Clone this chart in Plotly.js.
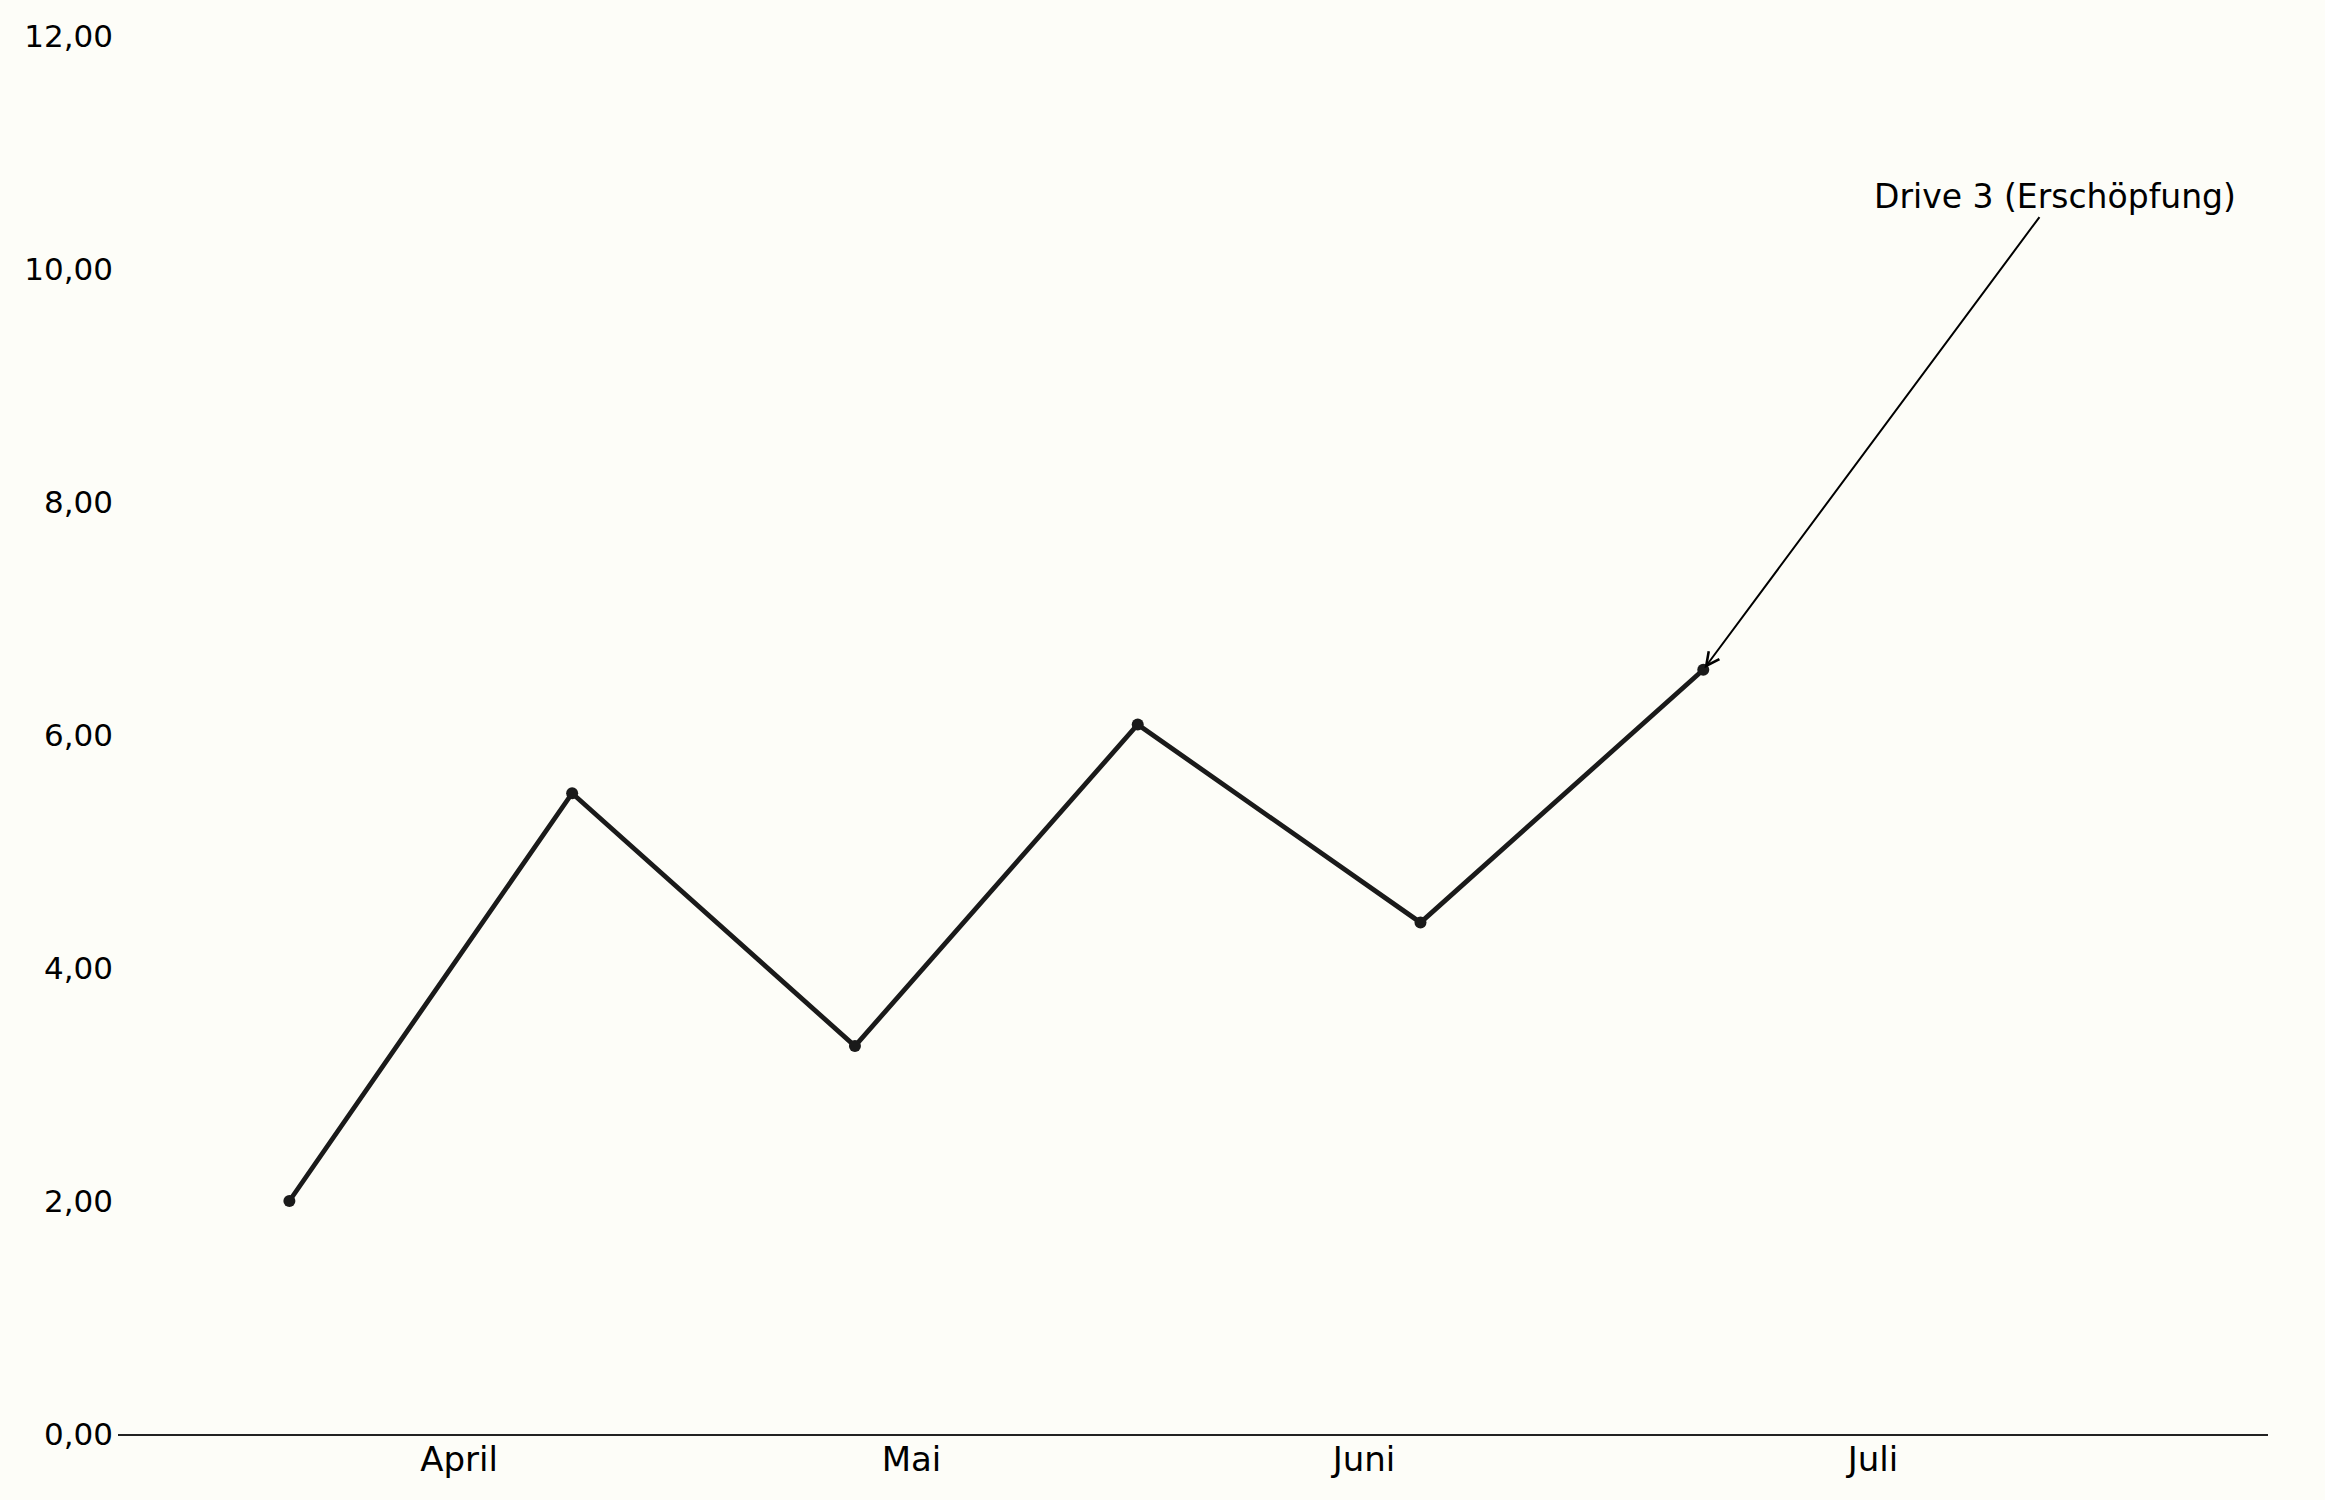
<!DOCTYPE html>
<html>
<head>
<meta charset="utf-8">
<script src="https://cdn.plot.ly/plotly-3.0.1.min.js"></script>
<style>
  html, body { margin: 0; padding: 0; background: #fdfdf8; }
  #chart { width: 2325px; height: 1500px; }
</style>
</head>
<body>
<div id="chart"></div>
<script>
// Messpunkte (gleichmäßige Abstände)
const pointPos = [0, 1, 2, 3, 4, 5];
const values = [2.0, 5.5, 3.33, 6.09, 4.39, 6.56];

// Monatsbeschriftung der x-Achse
const monthPos = [0.6, 2.2, 3.8, 5.6];
const monthLabels = ['April', 'Mai', 'Juni', 'Juli'];

const yTicks = [0, 2, 4, 6, 8, 10, 12];

const noteText = 'Drive 3 (Erschöpfung)';
const noteIndex = 5;

const ink = '#1a1a1a';

Plotly.newPlot('chart', [
    {
        x: pointPos,
        y: values,
        type: 'scatter',
        mode: 'lines+markers',
        line: { color: ink, width: 4.8 },
        marker: { color: ink, size: 12 },
        hoverinfo: 'skip'
    }
], {
    width: 2325,
    height: 1500,
    separators: ',.',
    font: { family: 'DejaVu Sans', color: '#000' },
    paper_bgcolor: '#fdfdf8',
    plot_bgcolor: '#fdfdf8',
    showlegend: false,
    margin: { l: 118, r: 57, t: 36, b: 66 },
    xaxis: {
        range: [-0.606, 6.997],
        tickvals: monthPos,
        ticktext: monthLabels,
        tickfont: { size: 34, color: '#000' },
        ticklabelstandoff: -6,
        showgrid: false,
        zeroline: false,
        showline: true,
        linecolor: '#222',
        linewidth: 2,
        ticks: ''
    },
    yaxis: {
        range: [0, 12],
        tickvals: yTicks,
        tickformat: '.2f',
        tickfont: { size: 31, color: '#000' },
        ticklabelstandoff: 4,
        showgrid: false,
        zeroline: false,
        showline: false,
        ticks: ''
    },
    annotations: [
        {
            x: pointPos[noteIndex],
            y: values[noteIndex],
            xref: 'x',
            yref: 'y',
            axref: 'x',
            ayref: 'y',
            ax: 6.244,
            ay: 10.626,
            text: noteText,
            font: { size: 33, color: '#000' },
            showarrow: true,
            arrowhead: 5,
            arrowsize: 1.3,
            arrowwidth: 2,
            arrowcolor: '#000',
            standoff: 2
        }
    ],
    hovermode: false
}, { displayModeBar: false, staticPlot: true });
</script>
</body>
</html>
